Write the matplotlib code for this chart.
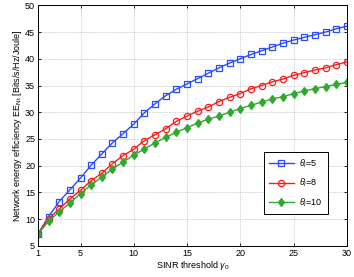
import numpy as np
import matplotlib
matplotlib.use('Agg')
import matplotlib.pyplot as plt

plt.rcParams['font.family'] = ['Liberation Sans', 'DejaVu Sans']
plt.rcParams['mathtext.fontset'] = 'custom'
plt.rcParams['mathtext.rm'] = 'Liberation Sans'
plt.rcParams['mathtext.it'] = 'Liberation Sans:italic'

gamma0 = np.arange(1, 31)
ee_theta5 = [7.2, 10.5, 13.3, 15.5, 17.7, 20.1, 22.2, 24.3, 26.0, 27.8,
             29.9, 31.6, 33.1, 34.3, 35.3, 36.3, 37.3, 38.3, 39.2, 40.0,
             40.8, 41.5, 42.2, 42.9, 43.5, 44.0, 44.5, 45.0, 45.6, 46.1]
ee_theta8 = [7.3, 10.1, 11.9, 13.8, 15.4, 17.2, 18.6, 20.4, 21.9, 23.1,
             24.7, 25.8, 26.9, 28.3, 29.3, 30.2, 31.0, 32.0, 32.8, 33.5,
             34.4, 35.0, 35.7, 36.2, 36.9, 37.4, 37.9, 38.3, 38.9, 39.4]
ee_theta10 = [7.2, 9.6, 11.4, 13.0, 14.8, 16.4, 17.9, 19.4, 20.7, 22.0,
              23.1, 24.3, 25.3, 26.3, 27.1, 28.0, 28.7, 29.3, 30.0, 30.7,
              31.3, 31.9, 32.5, 32.9, 33.5, 34.0, 34.4, 34.8, 35.2, 35.6]

fig = plt.figure(figsize=(3.54, 2.77), dpi=100)
ax = fig.add_axes([0.107, 0.112, 0.873, 0.869])

ax.plot(gamma0, ee_theta5, color='#2a4bff', lw=1.0, marker='s', ms=4.5,
        mfc='none', mec='#2a4bff', mew=0.9, label=r'$\theta_i$=5')
ax.plot(gamma0, ee_theta8, color='#ff1a1a', lw=1.0, marker='o', ms=4.5,
        mfc='none', mec='#ff1a1a', mew=0.9, label=r'$\theta_i$=8')
ax.plot(gamma0, ee_theta10, color='#2faa2f', lw=1.0, marker='d', ms=4.5,
        mfc='#2faa2f', mec='#2faa2f', mew=0.9, label=r'$\theta_i$=10')

ax.set_xlim(1, 30)
ax.set_ylim(5, 50)
ax.set_xticks([1, 5, 10, 15, 20, 25, 30])
ax.set_yticks(np.arange(5, 51, 5))
ax.tick_params(direction='in', top=True, right=True, labelsize=6.5,
               length=2.5, width=0.6, pad=2)
ax.grid(True, color='#c4c4c4', lw=0.6, ls=(0, (1, 1)))
for s in ax.spines.values():
    s.set_linewidth(0.7)

ax.set_xlabel(r'SINR threshold $\gamma_0$', fontsize=6.5, labelpad=1)
ax.set_ylabel(r'Network energy efficiency EE$_{\mathrm{Nt}}$ [Bits/s/Hz/Joule]',
              fontsize=6.5, labelpad=1)

leg = ax.legend(loc='upper left', bbox_to_anchor=(0.731, 0.39), fontsize=6.5,
                fancybox=False, edgecolor='black', framealpha=1,
                handlelength=2.8, borderpad=0.55, labelspacing=0.8,
                handletextpad=0.6, borderaxespad=0)
leg.get_frame().set_linewidth(0.7)

fig.savefig('out.png', dpi=100)
